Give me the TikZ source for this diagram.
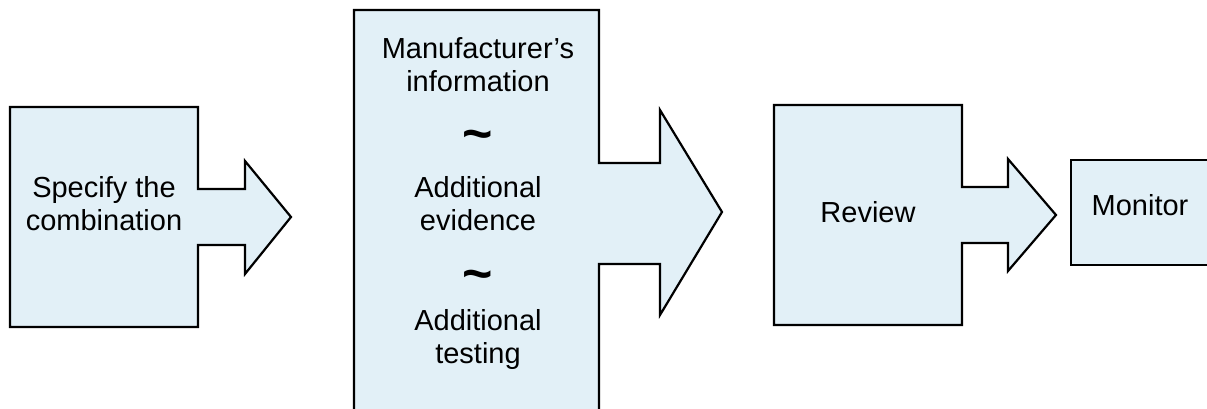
\documentclass[tikz,border=0pt]{standalone}
\usepackage{fontspec}
\setmainfont{Liberation Sans}
\definecolor{boxfill}{RGB}{226,240,247}
\begin{document}
\begin{tikzpicture}[x=1pt,y=-1pt,
  blockshape/.style={draw=black,line width=2.2pt,fill=boxfill,line join=miter},
  label/.style={align=center,font=\fontsize{29}{33}\selectfont,inner sep=0pt},
  tilde/.style={font=\fontsize{52}{52}\bfseries\selectfont,inner sep=0pt}]
\useasboundingbox (0,0) rectangle (1207,409);
\begin{scope}
\clip (0,0) rectangle (1207,409);
% block 1
\draw[blockshape] (10,107) -- (198,107) -- (198,189) -- (245,189) -- (245,161)
  -- (291,217) -- (245,274) -- (245,245) -- (198,245) -- (198,327) -- (10,327) -- cycle;
% block 2
\draw[blockshape] (354,420) -- (354,10) -- (599,10) -- (599,163) -- (660,163) -- (660,110)
  -- (722,212) -- (660,315) -- (660,264) -- (599,264) -- (599,420);
% block 3
\draw[blockshape] (774,105) -- (962,105) -- (962,187) -- (1008,187) -- (1008,159)
  -- (1056,215) -- (1008,271) -- (1008,243) -- (962,243) -- (962,325) -- (774,325) -- cycle;
% monitor
\draw[blockshape] (1220,160) -- (1071,160) -- (1071,265) -- (1220,265);
\end{scope}
\node[label] (spec) at (104,204) {Specify the\\combination};
\node[label] (manu) at (478,65) {Manufacturer’s\\information};
\node[tilde,anchor=base] (t1) at (478,151) {\char"7E};
\node[label] (evid) at (478,204) {Additional\\evidence};
\node[tilde,anchor=base] (t2) at (478,291) {\char"7E};
\node[label] (test) at (478,339) {Additional\\testing};
\node[label] (rev) at (868,212) {Review};
\node[label] (mon) at (1140,205) {Monitor};
\end{tikzpicture}
\end{document}
